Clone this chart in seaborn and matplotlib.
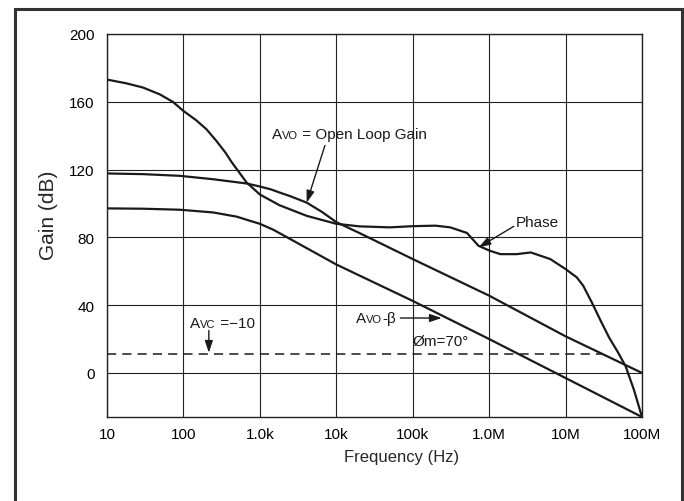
import numpy as np
import pandas as pd
import matplotlib
matplotlib.use("Agg")
import matplotlib.pyplot as plt
import matplotlib.patches as patches
from matplotlib.offsetbox import TextArea, HPacker, AnnotationBbox
import seaborn as sns

# === Data === #
freq_avo = [10, 30, 90, 245, 670, 1000, 1400, 1800, 2500, 4100, 6500, 10000,
            20000, 100000, 1e6, 1e7, 1e8]
gain_avo = [117.7, 117.3, 116.3, 114.3, 111.8, 110.0, 108.3, 106.5, 104.3, 100.5,
            95.0, 89.0, 82.6, 67.2, 45.6, 21.6, 0.0]

freq_beta = [10, 30, 90, 245, 500, 670, 1000, 1500, 2500, 10000, 100000, 1e6,
             1e7, 1e8]
gain_beta = [97.1, 96.9, 96.3, 94.7, 92.2, 90.4, 88.0, 84.5, 79.0, 64.0, 42.5,
             20.0, -3.0, -26.0]

freq_phase = [10, 17.9, 29.6, 49, 73, 100, 148, 200, 270, 355, 426, 500, 670,
              1000, 1800, 4100, 10000, 20000, 50000, 100000, 200000, 310000,
              513000, 727000, 1.02e6, 1.4e6, 2.3e6, 3.5e6, 6.3e6, 1e7, 1.4e7,
              1.7e7, 2.2e7, 2.9e7, 3.7e7, 4.8e7, 6.1e7, 7.85e7, 1e8]
gain_phase = [173.1, 170.9, 168.4, 164.4, 159.9, 154.6, 149.0, 143.8, 136.9,
              130.0, 124.5, 120.2, 112.4, 105.3, 99.0, 92.7, 88.0, 86.5, 85.9,
              86.6, 86.9, 85.9, 82.6, 75.0, 72.1, 70.1, 70.1, 71.1, 67.2, 61.3,
              56.4, 51.5, 41.7, 30.5, 21.0, 12.5, 4.0, -10.0, -26.0]

avc_freq = [10, 3.0e7]
avc_level = [11.2, 11.2]

tick_freqs = [10, 100, 1e3, 1e4, 1e5, 1e6, 1e7, 1e8]
tick_labels = ["10", "100", "1.0k", "10k", "100k", "1.0M", "10M", "100M"]
gain_ticks = [0, 40, 80, 120, 160, 200]

# === Style === #
sns.set_style("white")
plt.rcParams['font.family'] = ['Liberation Sans', 'DejaVu Sans']

fig = plt.figure(figsize=(6.84, 5.02), dpi=100)
ax = fig.add_axes([107 / 684, 1 - 418 / 502, 535 / 684, 383 / 502])

ink = "#1a1a1a"
sns.lineplot(x=freq_avo, y=gain_avo, ax=ax, color=ink, lw=1.6)
sns.lineplot(x=freq_beta, y=gain_beta, ax=ax, color=ink, lw=1.6)
sns.lineplot(x=freq_phase, y=gain_phase, ax=ax, color=ink, lw=1.6)
sns.lineplot(x=avc_freq, y=avc_level, ax=ax, color=ink, lw=1.1,
             linestyle=(0, (6, 4)))

ax.set_xscale("log")
ax.set_xlim(10, 1e8)
ax.set_ylim(-26, 200)
ax.set_xticks(tick_freqs)
ax.set_xticklabels(tick_labels)
ax.set_yticks(gain_ticks)
ax.xaxis.set_minor_locator(matplotlib.ticker.NullLocator())
ax.tick_params(axis="both", length=0, labelsize=11, colors="black")
ax.tick_params(axis="y", pad=9)
ax.tick_params(axis="x", pad=7)
ax.grid(True, which="major", color="#222222", lw=0.8)
for s in ax.spines.values():
    s.set_color("#222222")
    s.set_linewidth(1.0)

ax.set_xlabel("Frequency (Hz)", fontsize=12)
ax.xaxis.set_label_coords(0.55, -0.104)
ax.xaxis.label.set_va("center")
ax.set_ylabel("Gain (dB)", fontsize=15)
ax.yaxis.set_label_coords(-0.110, 0.53)
ax.yaxis.label.set_va("center")


# === Annotations === #
def small_caps_label(parts, xy):
    boxes = [TextArea(t, textprops=dict(fontsize=fs, color=ink)) for t, fs in parts]
    pack = HPacker(children=boxes, align="baseline", pad=0, sep=0)
    ab = AnnotationBbox(pack, xy, xycoords="data", box_alignment=(0, 0.5),
                        frameon=False, pad=0)
    ax.add_artist(ab)


arrow = dict(arrowstyle="-|>,head_length=0.6,head_width=0.2", color=ink, lw=1.0,
             mutation_scale=12, shrinkA=0, shrinkB=0)

small_caps_label([("A", 11), ("VO", 8), (" = Open Loop Gain", 11)], (1430, 140.9))
ax.annotate("", xy=(4100, 100.5), xytext=(7100, 134.2), arrowprops=arrow)

ax.text(2.2e6, 89.2, "Phase", fontsize=11, color=ink, va="center", ha="left")
ax.annotate("", xy=(7.3e5, 74.1), xytext=(2.1e6, 86.5), arrowprops=arrow)

small_caps_label([("A", 11), ("VO", 8), ("-β", 11)], (18200, 32.4))
ax.annotate("", xy=(2.4e5, 32.4), xytext=(69000, 32.4), arrowprops=arrow)

small_caps_label([("A", 11), ("VC", 8), (" =\u221210", 11)], (122, 29.5))
ax.annotate("", xy=(215, 11.9), xytext=(215, 25.0), arrowprops=arrow)

ax.text(1.0e5, 19.0, "Øm=70°", fontsize=11, color=ink, va="center", ha="left")

# === Outer frame === #
frame = patches.Rectangle((15 / 684, -0.1), 667 / 684, 1.1 - 10 / 502,
                          transform=fig.transFigure, fill=False,
                          edgecolor="#333333", lw=2.2, clip_on=False)
fig.patches.append(frame)

fig.savefig("out.png", dpi=100)
